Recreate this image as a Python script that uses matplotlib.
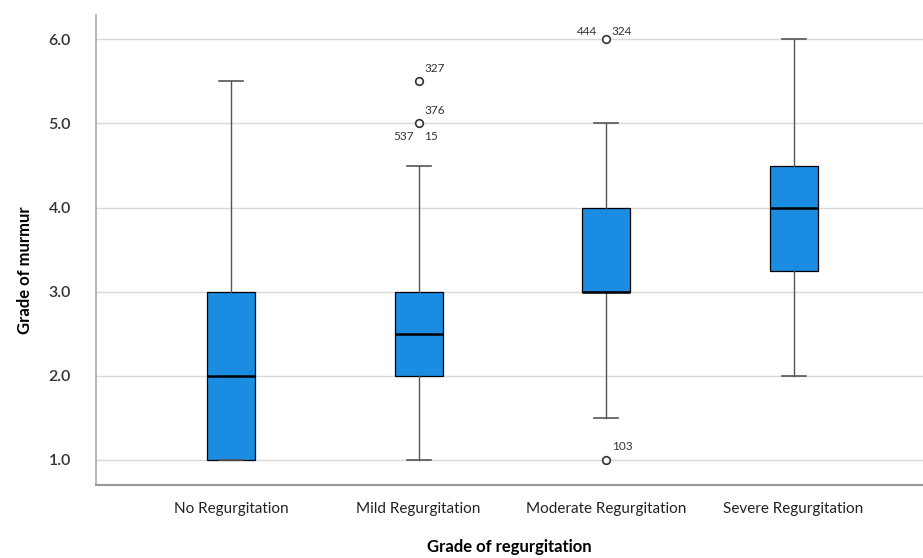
import matplotlib.pyplot as plt

plt.rcParams['font.family'] = ['Lato', 'DejaVu Sans']

# categories and box statistics
categories = ["No Regurgitation", "Mild Regurgitation",
              "Moderate Regurgitation", "Severe Regurgitation"]
whislo = [1.0, 1.0, 1.5, 2.0]
q1 = [1.0, 2.0, 3.0, 3.25]
med = [2.0, 2.5, 3.0, 4.0]
q3 = [3.0, 3.0, 4.0, 4.5]
whishi = [5.5, 4.5, 5.0, 6.0]
fliers = [[], [5.5, 5.0], [6.0, 1.0], []]

# outlier case labels: (group, value, text, dx, dy) offsets in points
outlier_labels = [
    (1, 5.5, "327", 4, 7),
    (1, 5.0, "376", 4, 7),
    (1, 5.0, "537", -18, -12),
    (1, 5.0, "15", 4, -12),
    (2, 6.0, "444", -21, 3),
    (2, 6.0, "324", 4, 3),
    (2, 1.0, "103", 4, 7),
]

stats = []
for i, name in enumerate(categories):
    stats.append({"label": name, "whislo": whislo[i], "q1": q1[i], "med": med[i],
                  "q3": q3[i], "whishi": whishi[i], "fliers": fliers[i]})

fig = plt.figure(figsize=(9.23, 5.58), dpi=100)
ax = fig.add_axes([0.104, 0.131, 0.896, 0.842])

ax.bxp(stats, positions=range(len(categories)), widths=0.256, patch_artist=True,
       boxprops=dict(facecolor="#1a8de3", edgecolor="black", linewidth=0.9),
       medianprops=dict(color="black", linewidth=1.8),
       whiskerprops=dict(color="#555555", linewidth=1.0),
       capprops=dict(color="#555555", linewidth=1.2),
       capwidths=0.128,
       flierprops=dict(marker="o", markersize=5.5, markerfacecolor="white",
                       markeredgecolor="#333333", markeredgewidth=1.2),
       zorder=3)

for g, v, txt, dx, dy in outlier_labels:
    ax.annotate(txt, (g, v), xytext=(dx, dy), textcoords="offset points",
                fontsize=8.5, color="#333333")

ax.set_xlim(-0.72, 3.69)
ax.set_ylim(0.7, 6.29)
ax.set_yticks([1, 2, 3, 4, 5, 6])
ax.set_yticklabels([f"{t:.1f}" for t in [1, 2, 3, 4, 5, 6]], fontweight="semibold")
ax.yaxis.grid(True, color="#d9d9d9", linewidth=1.0, zorder=0)
ax.set_axisbelow(True)
ax.tick_params(axis="y", length=0, pad=18, labelsize=11.5, labelcolor="#333333")
ax.tick_params(axis="x", length=0, pad=12, labelsize=11, labelcolor="#222222")

for s in ["top", "right"]:
    ax.spines[s].set_visible(False)
ax.spines["left"].set_color("#aaaaaa")
ax.spines["bottom"].set_color("#999999")
ax.spines["left"].set_linewidth(1.2)
ax.spines["bottom"].set_linewidth(1.5)

ax.set_xlabel("Grade of regurgitation", fontsize=12, fontweight="bold", labelpad=17)
ax.set_ylabel("Grade of murmur", fontsize=12, fontweight="bold")
ax.yaxis.set_label_coords(-0.076, 0.457)

fig.savefig("out.png", dpi=100)
